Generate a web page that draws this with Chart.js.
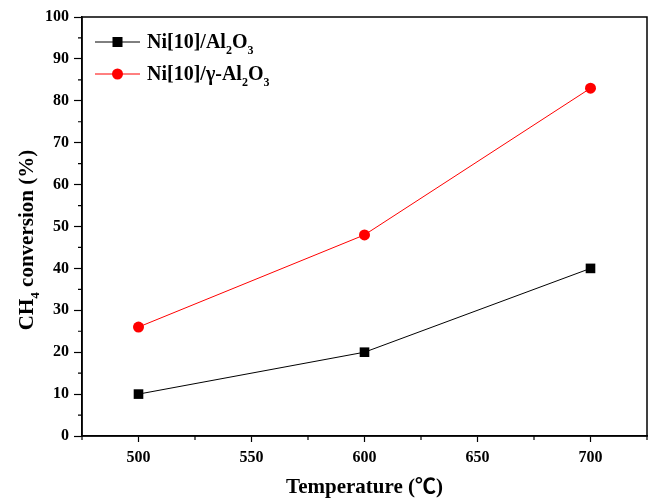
<!DOCTYPE html>
<html>
<head>
<meta charset="utf-8">
<script src="https://cdn.jsdelivr.net/npm/chart.js@4/dist/chart.umd.min.js"></script>
<style>
  html, body { margin: 0; padding: 0; background: #fff; }
  #wrap { width: 656px; height: 500px; }
</style>
</head>
<body>
<div id="wrap"><canvas id="chart"></canvas></div>
<script>
// Data
const temperatures = [500, 600, 700];
const niAl2O3 = [10, 20, 40];
const niGammaAl2O3 = [26, 48, 83];
const xTicks = [500, 550, 600, 650, 700];
const yTicks = [0, 10, 20, 30, 40, 50, 60, 70, 80, 90, 100];

const serif = '"Liberation Serif", "Times New Roman", serif';

// Draws text pieces with subscripts, starting at x (baseline y)
function drawRich(ctx, parts, x, y, size) {
    parts.forEach(p => {
        if (p.sub) {
            ctx.font = 'bold ' + Math.round(size * 0.62) + 'px ' + serif;
            ctx.fillText(p.t, x, y + size * 0.28);
        } else {
            ctx.font = 'bold ' + size + 'px ' + serif;
            ctx.fillText(p.t, x, y);
        }
        x += ctx.measureText(p.t).width;
    });
    return x;
}

function richWidth(ctx, parts, size) {
    let w = 0;
    parts.forEach(p => {
        ctx.font = 'bold ' + (p.sub ? Math.round(size * 0.62) : size) + 'px ' + serif;
        w += ctx.measureText(p.t).width;
    });
    return w;
}

const legendItems = [
    { parts: [{ t: 'Ni[10]/Al' }, { t: '2', sub: true }, { t: 'O' }, { t: '3', sub: true }], color: '#000', marker: 'rect' },
    { parts: [{ t: 'Ni[10]/γ-Al' }, { t: '2', sub: true }, { t: 'O' }, { t: '3', sub: true }], color: '#ff0000', marker: 'circle' }
];
const yTitleParts = [{ t: 'CH' }, { t: '4', sub: true }, { t: ' conversion (%)' }];

// Frame, minor ticks, y title and legend
const extras = {
    id: 'extras',
    afterDraw(chart) {
        const ctx = chart.ctx;
        const area = chart.chartArea;
        const xs = chart.scales.x;
        const ys = chart.scales.y;
        ctx.save();
        ctx.strokeStyle = '#000';
        ctx.lineWidth = 1.5;
        ctx.strokeRect(area.left, area.top, area.right - area.left, area.bottom - area.top);

        // minor ticks
        ctx.lineWidth = 1.2;
        ctx.beginPath();
        for (let v = 475; v <= 725; v += 50) {
            const px = xs.getPixelForValue(v);
            ctx.moveTo(px, area.bottom);
            ctx.lineTo(px, area.bottom + 4);
        }
        for (let v = 5; v < 100; v += 10) {
            const py = ys.getPixelForValue(v);
            ctx.moveTo(area.left, py);
            ctx.lineTo(area.left - 4, py);
        }
        ctx.stroke();

        // y title
        ctx.fillStyle = '#000';
        ctx.textBaseline = 'alphabetic';
        ctx.textAlign = 'left';
        const ySize = 21;
        const w = richWidth(ctx, yTitleParts, ySize);
        ctx.save();
        ctx.translate(33, 240);
        ctx.rotate(-Math.PI / 2);
        drawRich(ctx, yTitleParts, -w / 2, 0, ySize);
        ctx.restore();

        // legend
        legendItems.forEach((item, i) => {
            const y = 42 + i * 32;
            ctx.strokeStyle = item.color;
            ctx.lineWidth = 1;
            ctx.beginPath();
            ctx.moveTo(95, y);
            ctx.lineTo(140, y);
            ctx.stroke();
            ctx.fillStyle = item.color;
            if (item.marker === 'rect') {
                ctx.fillRect(117.5 - 5, y - 5, 10, 10);
            } else {
                ctx.beginPath();
                ctx.arc(117.5, y, 5.5, 0, Math.PI * 2);
                ctx.fill();
            }
            ctx.fillStyle = '#000';
            drawRich(ctx, item.parts, 147, y + 6, 20);
        });
        ctx.restore();
    }
};

const ctx = document.getElementById('chart').getContext('2d');
new Chart(ctx, {
    type: 'line',
    data: {
        datasets: [
            {
                label: 'Ni[10]/Al2O3',
                data: temperatures.map((t, i) => ({ x: t, y: niAl2O3[i] })),
                borderColor: '#000',
                backgroundColor: '#000',
                borderWidth: 1,
                pointStyle: 'rect',
                pointRadius: 6.8,
                pointBorderWidth: 0,
                tension: 0
            },
            {
                label: 'Ni[10]/γ-Al2O3',
                data: temperatures.map((t, i) => ({ x: t, y: niGammaAl2O3[i] })),
                borderColor: '#ff0000',
                backgroundColor: '#ff0000',
                borderWidth: 1,
                pointStyle: 'circle',
                pointRadius: 5.5,
                pointBorderWidth: 0,
                tension: 0
            }
        ]
    },
    options: {
        responsive: true,
        maintainAspectRatio: false,
        animation: false,
        layout: { padding: { top: 17, right: 9, left: 0, bottom: 0 } },
        plugins: {
            legend: { display: false },
            tooltip: { enabled: false }
        },
        scales: {
            x: {
                type: 'linear',
                min: 475,
                max: 725,
                afterBuildTicks: scale => { scale.ticks = xTicks.map(v => ({ value: v })); },
                afterFit: scale => { scale.height = 64; },
                border: { display: true, color: '#000', width: 1.5 },
                grid: { display: true, drawOnChartArea: false, drawTicks: true, tickLength: 6, color: '#000', tickWidth: 1.2 },
                ticks: {
                    color: '#000',
                    padding: 6,
                    maxRotation: 0,
                    font: { family: serif, size: 16, weight: 'bold' }
                },
                title: {
                    display: true,
                    text: 'Temperature (℃)',
                    color: '#000',
                    padding: { top: 0, bottom: 0 },
                    font: { family: '"Liberation Serif", "Noto Sans CJK SC", serif', size: 21, weight: 'bold' }
                }
            },
            y: {
                min: 0,
                max: 100,
                afterBuildTicks: scale => { scale.ticks = yTicks.map(v => ({ value: v })); },
                afterFit: scale => { scale.width = 82; },
                border: { display: true, color: '#000', width: 1.5 },
                grid: { display: true, drawOnChartArea: false, drawTicks: true, tickLength: 8, color: '#000', tickWidth: 1.2 },
                ticks: {
                    color: '#000',
                    padding: 5,
                    font: { family: serif, size: 16, weight: 'bold' }
                },
                title: { display: false }
            }
        }
    },
    plugins: [extras]
});
</script>
</body>
</html>
